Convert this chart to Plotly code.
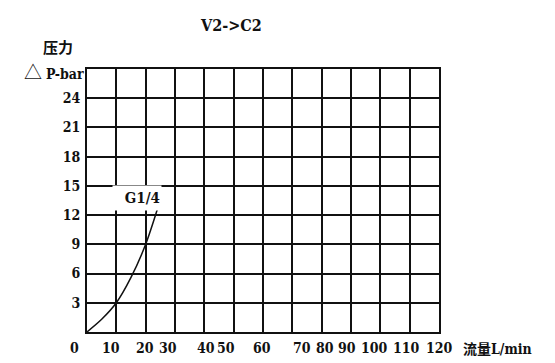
import plotly.graph_objects as go

# ---- data ----
flow_lpm = [0, 5, 10, 15, 20, 24.2]
pressure_bar = [0, 1.3, 3.0, 5.6, 9.0, 12.8]
series_name = "G1/4"
y_ticks = [3, 6, 9, 12, 15, 18, 21, 24]
x_tick_labels = ["0", "10", "20", "30", "40", "50", "60", "70", "80", "90", "100", "110", "120"]
title_text = "V2->C2"

# ---- layout helpers (label placement as in the scanned original, in flow units) ----
x_label_pos = [-4.4, 8.1, 19.8, 27.5, 40.5, 47.5, 59.8, 73.4, 81.1, 88.8, 97.9, 108.9, 120.2]
X_MAX = 120

FONT_LAT = "DejaVu Serif Condensed, Liberation Serif, serif"
FONT_CJK = "Noto Sans CJK SC"
INK = "#111111"

fig = go.Figure()
fig.add_trace(go.Scatter(
    x=flow_lpm, y=pressure_bar, mode="lines", name=series_name,
    line=dict(color=INK, width=1.5, shape="spline", smoothing=0.8),
    showlegend=False, hoverinfo="skip",
))

annotations = []
for lab, xp in zip(x_tick_labels, x_label_pos):
    annotations.append(dict(
        x=xp / X_MAX, y=0, xref="paper", yref="y", text="<b>%s</b>" % lab, showarrow=False,
        xanchor="center", yanchor="middle", yshift=-16,
        font=dict(family=FONT_LAT, size=14, color=INK),
    ))
annotations += [
    dict(x=0.409, y=1.165, xref="paper", yref="paper", text="<b>%s</b>" % title_text,
         showarrow=False, xanchor="center", yanchor="middle",
         font=dict(family=FONT_LAT, size=16, color=INK)),
    dict(x=-0.082, y=1.084, xref="paper", yref="paper", text="<b>压力</b>",
         showarrow=False, xanchor="center", yanchor="middle",
         font=dict(family=FONT_CJK, size=15, color=INK)),
    dict(x=-0.004, y=0.992, xref="paper", yref="paper",
         text="<span style='font-family:Noto Sans CJK SC;font-size:18px'>△</span> <b>P-bar</b>",
         showarrow=False, xanchor="right", yanchor="middle",
         font=dict(family=FONT_LAT, size=14, color=INK)),
    dict(x=1.062, y=0, xref="paper", yref="y", yshift=-16,
         text="<b><span style='font-family:Noto Sans CJK SC'>流量</span>L/min</b>",
         showarrow=False, xanchor="left", yanchor="middle",
         font=dict(family=FONT_LAT, size=14, color=INK)),
    dict(x=16.9, y=13.8, xref="x", yref="y", text="<b>%s</b>" % series_name,
         showarrow=False, xanchor="center", yanchor="middle",
         bgcolor="white", width=46, height=22, align="right",
         font=dict(family=FONT_LAT, size=15, color=INK)),
]

fig.update_layout(
    width=555, height=363,
    margin=dict(l=87, r=116, t=69, b=31),
    paper_bgcolor="white", plot_bgcolor="white",
    showlegend=False,
    annotations=annotations,
    xaxis=dict(range=[0, X_MAX], dtick=10, tick0=0, showticklabels=False,
               showgrid=True, gridcolor=INK, gridwidth=1.5,
               showline=True, linecolor=INK, linewidth=2, mirror=True,
               zeroline=False, ticks="", fixedrange=True),
    yaxis=dict(range=[0, 27], tickvals=y_ticks, ticktext=["<b>%d</b>" % v for v in y_ticks],
               showgrid=True, gridcolor=INK, gridwidth=1.5,
               showline=True, linecolor=INK, linewidth=2, mirror=True,
               zeroline=False, ticks="", ticklabelstandoff=2,
               tickfont=dict(family=FONT_LAT, size=14, color=INK), fixedrange=True),
)

fig.write_html("out.html", config={"displayModeBar": False},
               post_script="document.body.style.margin='0';document.body.style.padding='0';")
